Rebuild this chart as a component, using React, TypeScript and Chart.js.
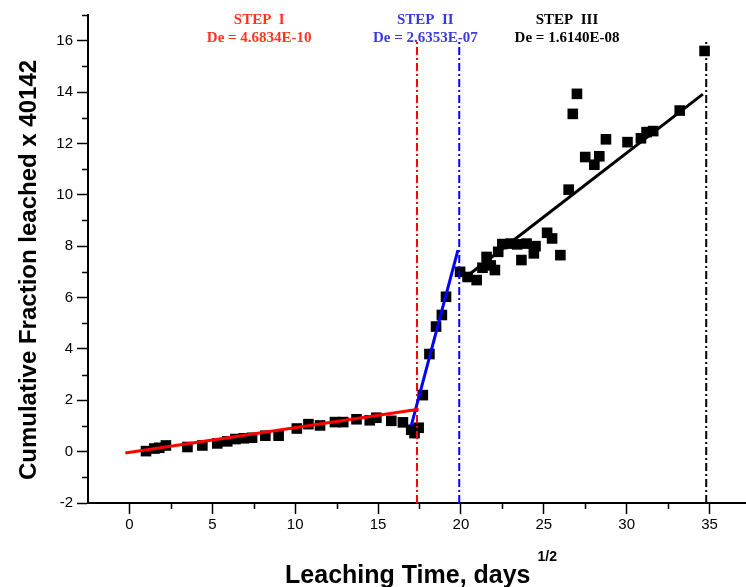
import React, { useEffect, useRef } from "react";
import { Chart, registerables } from "chart.js";

Chart.register(...registerables);

// Measured points (sqrt days, cumulative fraction x 40142)
const timeValues = [
  1.0, 1.5, 1.8, 2.2, 3.5, 4.4, 5.3, 5.9, 6.4, 6.9, 7.4, 8.2, 9.0, 10.1, 10.8, 11.5, 12.4, 12.9,
  13.7, 14.5, 14.9, 15.8, 16.5, 17.0, 17.2, 17.45,
  17.7, 18.1, 18.5, 18.85, 19.1,
  19.95, 20.4, 20.95, 21.3, 21.55, 21.8, 22.05, 22.25, 22.5, 23.0, 23.4, 23.65, 23.96, 24.4, 24.5,
  25.2, 25.5, 26.0, 26.5, 26.75, 27.0, 27.5, 28.05, 28.35, 28.75, 30.05, 30.86, 31.2, 31.6, 33.2, 34.7,
];
const fractionValues = [
  0.02, 0.12, 0.15, 0.24, 0.18, 0.24, 0.32, 0.4, 0.49, 0.52, 0.54, 0.62, 0.62, 0.9, 1.07, 1.02, 1.15, 1.15,
  1.26, 1.22, 1.32, 1.2, 1.14, 0.85, 0.72, 0.93,
  2.2, 3.8, 4.87, 5.32, 6.03,
  7.0, 6.8, 6.68, 7.16, 7.58, 7.25, 7.07, 7.78, 8.08, 8.1, 8.07, 7.46, 8.1, 7.72, 8.0,
  8.52, 8.3, 7.65, 10.2, 13.15, 13.93, 11.47, 11.17, 11.5, 12.16, 12.05, 12.2, 12.44, 12.48, 13.28, 15.6,
];

// Fitted lines (start / end)
const fit1X = [-0.25, 17.45];
const fit1Y = [-0.05, 1.65];
const fit2X = [17.0, 19.82];
const fit2Y = [1.0, 7.85];
const fit3X = [20.3, 34.6];
const fit3Y = [6.8, 13.92];

// Step boundaries
const boundaryX = [17.35, 19.9, 34.8];
const boundaryTop = 16;
const boundaryColors = ["#ff0000", "#0000ff", "#000000"];

// Step labels
const stepTitles = ["STEP  I", "STEP  II", "STEP  III"];
const stepDe = ["De = 4.6834E-10", "De = 2.6353E-07", "De = 1.6140E-08"];
const stepCenterX = [7.83, 17.85, 26.4];
const stepColors = ["#ff3322", "#3a3ade", "#000000"];

const xTickValues = [0, 5, 10, 15, 20, 25, 30, 35];
const xMinorValues = [2.5, 7.5, 12.5, 17.5, 22.5, 27.5, 32.5];
const yTickValues = [-2, 0, 2, 4, 6, 8, 10, 12, 14, 16];
const yMinorValues = [-1, 1, 3, 5, 7, 9, 11, 13, 15, 17];

const SANS = "'Liberation Sans', Arial, sans-serif";
const SERIF = "'Liberation Serif', 'Times New Roman', serif";

const decorPlugin = {
  id: "decor",
  afterDraw(chart: any) {
    const ctx = chart.ctx;
    const xs = chart.scales.x;
    const ys = chart.scales.y;
    const area = chart.chartArea;
    ctx.save();
    // minor ticks
    ctx.strokeStyle = "#000";
    ctx.lineWidth = 1.5;
    ctx.beginPath();
    xMinorValues.forEach((v) => {
      const px = Math.round(xs.getPixelForValue(v)) + 0.5;
      ctx.moveTo(px, area.bottom);
      ctx.lineTo(px, area.bottom + 6);
    });
    yMinorValues.forEach((v) => {
      const py = Math.round(ys.getPixelForValue(v)) + 0.5;
      ctx.moveTo(area.left, py);
      ctx.lineTo(area.left - 6, py);
    });
    ctx.stroke();

    // step labels
    ctx.textAlign = "center";
    ctx.textBaseline = "alphabetic";
    stepTitles.forEach((t, i) => {
      const cx = xs.getPixelForValue(stepCenterX[i]);
      ctx.fillStyle = stepColors[i];
      ctx.font = `bold 15px ${SERIF}`;
      ctx.fillText(t, cx, area.top + 9);
      ctx.fillText(stepDe[i], cx, area.top + 27);
    });

    // y title
    ctx.fillStyle = "#000";
    ctx.font = `bold 24px ${SANS}`;
    ctx.save();
    ctx.translate(29, 270);
    ctx.rotate(-Math.PI / 2);
    ctx.textAlign = "center";
    ctx.textBaseline = "middle";
    ctx.fillText("Cumulative Fraction leached x 40142", 0, 0);
    ctx.restore();

    // x title with superscript
    const main = "Leaching Time, days ";
    const sup = "1/2";
    ctx.font = `bold 25px ${SANS}`;
    const wMain = ctx.measureText(main).width;
    ctx.font = `bold 14px ${SANS}`;
    const wSup = ctx.measureText(sup).width;
    const startX = 421 - (wMain + wSup) / 2;
    ctx.textAlign = "left";
    ctx.textBaseline = "alphabetic";
    ctx.font = `bold 25px ${SANS}`;
    ctx.fillText(main, startX, 583);
    ctx.font = `bold 14px ${SANS}`;
    ctx.fillText(sup, startX + wMain, 561);
    ctx.restore();
  },
};

export default function App() {
  const ref = useRef<HTMLCanvasElement | null>(null);

  useEffect(() => {
    if (!ref.current) return;
    const points = timeValues.map((x, i) => ({ x, y: fractionValues[i] }));
    const lineDs = (xsArr: number[], ysArr: number[], color: string) => ({
      data: xsArr.map((x, i) => ({ x, y: ysArr[i] })),
      showLine: true,
      borderColor: color,
      backgroundColor: color,
      borderWidth: 3,
      pointRadius: 0,
      order: 1,
    });
    const boundaries = boundaryX.map((bx, i) => ({
      data: [
        { x: bx, y: -2 },
        { x: bx, y: boundaryTop },
      ],
      showLine: true,
      borderColor: boundaryColors[i],
      borderWidth: 2,
      borderDash: [8, 3, 2, 3],
      pointRadius: 0,
      order: 2,
    }));

    const chart = new Chart(ref.current, {
      type: "scatter",
      data: {
        datasets: [
          {
            data: points,
            pointStyle: "rect",
            pointRadius: 7.5,
            pointHoverRadius: 7.5,
            backgroundColor: "#000",
            borderColor: "#000",
            borderWidth: 0,
            order: 5,
          },
          lineDs(fit1X, fit1Y, "#ff0000"),
          lineDs(fit2X, fit2Y, "#0000ff"),
          lineDs(fit3X, fit3Y, "#000000"),
          ...boundaries,
        ] as any,
      },
      options: {
        animation: false,
        responsive: false,
        layout: { autoPadding: false, padding: { top: 15, right: 0, left: 0, bottom: 0 } },
        plugins: {
          legend: { display: false },
          tooltip: { enabled: false },
          title: { display: false },
        },
        scales: {
          x: {
            type: "linear",
            min: -2.5,
            max: 37.2,
            afterBuildTicks: (s: any) => {
              s.ticks = xTickValues.map((v) => ({ value: v }));
            },
            afterFit: (s: any) => {
              s.height = 84;
              s.paddingLeft = 0;
              s.paddingRight = 0;
            },
            grid: {
              drawOnChartArea: false,
              drawTicks: true,
              tickLength: 11,
              tickColor: "#000",
              tickWidth: 1.5,
            },
            border: { display: true, color: "#000", width: 2 },
            ticks: {
              color: "#000",
              font: { family: SANS, size: 15 },
              padding: 2,
              maxRotation: 0,
              autoSkip: false,
            },
          },
          y: {
            type: "linear",
            min: -2,
            max: 17,
            afterBuildTicks: (s: any) => {
              s.ticks = yTickValues.map((v) => ({ value: v }));
            },
            afterFit: (s: any) => {
              s.width = 88;
              s.paddingTop = 0;
              s.paddingBottom = 0;
            },
            grid: {
              drawOnChartArea: false,
              drawTicks: true,
              tickLength: 11,
              tickColor: "#000",
              tickWidth: 1.5,
            },
            border: { display: true, color: "#000", width: 2 },
            ticks: {
              color: "#000",
              font: { family: SANS, size: 15 },
              padding: 4,
              autoSkip: false,
            },
          },
        },
      },
      plugins: [decorPlugin],
    } as any);
    return () => chart.destroy();
  }, []);

  return (
    <div style={{ position: "absolute", left: 0, top: 0, width: 746, height: 587, overflow: "hidden", background: "#fff" }}>
      <canvas ref={ref} width={746} height={587} />
    </div>
  );
}
